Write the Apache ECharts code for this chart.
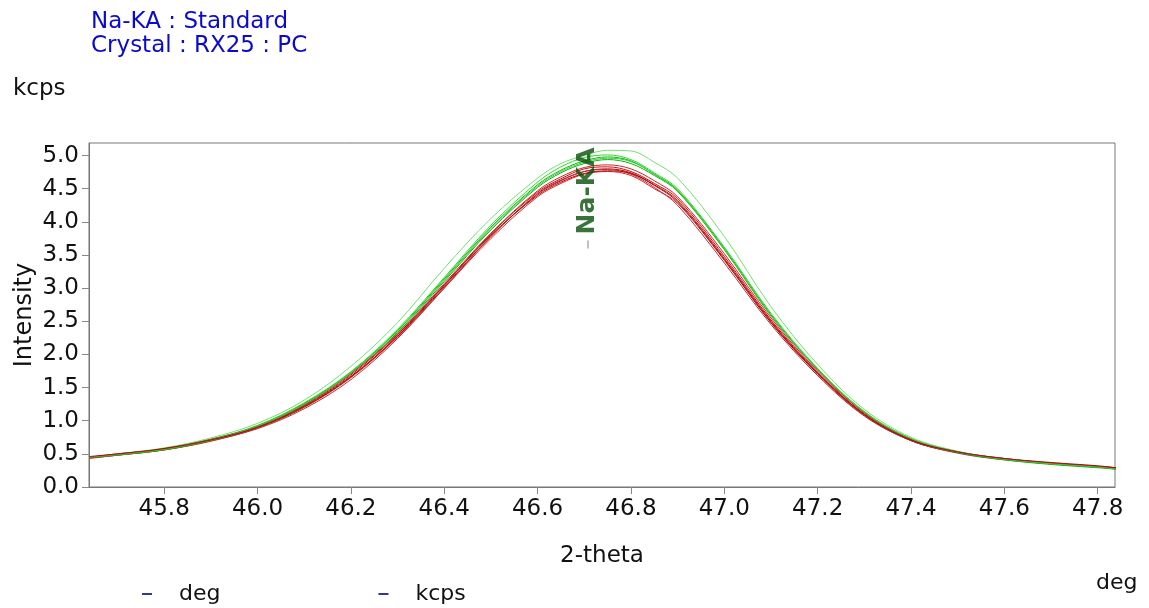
<!DOCTYPE html>
<html>
<head>
<meta charset="utf-8">
<script src="https://cdn.jsdelivr.net/npm/echarts@6/dist/echarts.min.js"></script>
<style>html,body{margin:0;padding:0;background:#fff}#c{width:1149px;height:608px}</style>
</head>
<body>
<div id="c"></div>
<script>
// ---- data ----
const twoTheta = [45.64,45.70,45.80,45.90,46.00,46.10,46.20,46.30,46.40,46.50,46.60,46.65,46.70,46.75,46.80,46.85,46.90,47.00,47.10,47.20,47.30,47.40,47.50,47.60,47.70,47.80,47.84];
const red1 = [0.44,0.48,0.56,0.70,0.90,1.22,1.67,2.27,3.02,3.78,4.42,4.62,4.76,4.80,4.74,4.56,4.32,3.45,2.50,1.72,1.10,0.71,0.53,0.43,0.36,0.31,0.29];
const red2 = [0.45,0.49,0.57,0.71,0.91,1.23,1.69,2.30,3.05,3.82,4.45,4.65,4.80,4.83,4.76,4.58,4.35,3.48,2.52,1.73,1.10,0.70,0.52,0.42,0.36,0.31,0.29];
const red3 = [0.43,0.48,0.56,0.69,0.89,1.20,1.65,2.26,3.00,3.75,4.38,4.58,4.72,4.76,4.70,4.50,4.28,3.42,2.48,1.70,1.08,0.70,0.52,0.42,0.35,0.31,0.28];
const red4 = [0.45,0.50,0.57,0.70,0.88,1.18,1.62,2.24,3.00,3.78,4.43,4.63,4.76,4.79,4.72,4.52,4.25,3.38,2.45,1.68,1.07,0.70,0.51,0.41,0.35,0.30,0.28];
const red5 = [0.44,0.49,0.58,0.72,0.92,1.25,1.71,2.31,3.07,3.83,4.47,4.68,4.82,4.86,4.80,4.62,4.38,3.52,2.55,1.75,1.12,0.72,0.53,0.43,0.36,0.31,0.28];
const red6 = [0.46,0.50,0.58,0.71,0.90,1.21,1.66,2.28,3.04,3.80,4.40,4.60,4.73,4.77,4.73,4.55,4.30,3.43,2.48,1.71,1.09,0.71,0.53,0.43,0.37,0.32,0.29];
const green1 = [0.45,0.49,0.57,0.71,0.92,1.26,1.73,2.36,3.14,3.92,4.56,4.78,4.92,4.98,4.92,4.72,4.48,3.60,2.60,1.78,1.13,0.73,0.53,0.42,0.35,0.30,0.27];
const green2 = [0.44,0.49,0.58,0.72,0.93,1.27,1.74,2.38,3.16,3.95,4.60,4.83,4.97,5.01,4.94,4.74,4.50,3.62,2.62,1.79,1.14,0.73,0.53,0.42,0.35,0.30,0.27];
const green3 = [0.45,0.50,0.59,0.74,0.96,1.31,1.82,2.48,3.30,4.05,4.66,4.88,5.00,5.08,5.07,4.90,4.66,3.78,2.72,1.85,1.17,0.75,0.54,0.42,0.35,0.30,0.27];
const green4 = [0.44,0.48,0.56,0.70,0.91,1.24,1.71,2.33,3.10,3.88,4.52,4.74,4.88,4.94,4.88,4.70,4.46,3.58,2.58,1.77,1.12,0.72,0.52,0.41,0.34,0.29,0.27];
const green5 = [0.45,0.49,0.57,0.71,0.92,1.25,1.72,2.35,3.12,3.90,4.54,4.76,4.90,4.96,4.91,4.72,4.47,3.59,2.59,1.78,1.13,0.73,0.53,0.42,0.35,0.30,0.27];
const xTicks = [45.8,46.0,46.2,46.4,46.6,46.8,47.0,47.2,47.4,47.6,47.8];
const yTicks = [0,0.5,1.0,1.5,2.0,2.5,3.0,3.5,4.0,4.5,5.0];
const peakName = 'Na-KA';
const peakPos = [46.708, 3.66];
const legendNames = ['deg','kcps'];

const traces = [
  {d: red1, c: '#d00000'}, {d: green1, c: '#00c000'},
  {d: red2, c: '#c01010'}, {d: green2, c: '#30d830'},
  {d: red3, c: '#e02020'}, {d: green3, c: '#70e070'},
  {d: red4, c: '#b03040'}, {d: green4, c: '#10b010'},
  {d: red5, c: '#cc2a2a'}, {d: green5, c: '#40cc40'},
  {d: red6, c: '#a01010'}
];

const FONT = 'DejaVu Sans';
const series = traces.map(t => ({
  type: 'line', data: twoTheta.map((x, i) => [x, t.d[i]]),
  showSymbol: false, smooth: 0.35, silent: true,
  lineStyle: {color: t.c, width: 1}, itemStyle: {color: t.c}
}));
series.push({
  type: 'scatter', data: [peakPos], symbol: 'rect', symbolSize: [1.5, 8],
  itemStyle: {color: '#999'}, silent: true, z: 10,
  label: {show: true, formatter: peakName, position: 'top', distance: 6, rotate: 90,
    align: 'left', verticalAlign: 'middle', color: '#07500a', fontFamily: FONT, fontSize: 25, fontWeight: 'bold'}
});
legendNames.forEach(n => series.push({type: 'line', name: n, data: [], itemStyle: {color: '#3535a0'}, lineStyle: {color: '#3535a0'}}));

const chart = echarts.init(document.getElementById('c'), null, {renderer: 'canvas'});
chart.setOption({
  animation: false,
  backgroundColor: '#fff',
  title: [
    {text: 'Na-KA : Standard\nCrystal : RX25 : PC', left: 86, top: 5,
      textStyle: {color: '#0a0acc', fontFamily: FONT, fontSize: 23, fontWeight: 'normal', lineHeight: 24}},
    {text: 'kcps', left: 8, top: 73, textStyle: {color: '#111', fontFamily: FONT, fontSize: 23, fontWeight: 'normal'}},
    {text: 'deg', left: 1091, top: 567, textStyle: {color: '#111', fontFamily: FONT, fontSize: 22, fontWeight: 'normal'}}
  ],
  legend: {
    data: legendNames, left: 137, top: 578, itemGap: 158, icon: 'rect', itemWidth: 10, itemHeight: 2,
    textStyle: {color: '#111', fontFamily: FONT, fontSize: 22, padding: [0, 0, 0, 22]}, selectedMode: false
  },
  grid: {left: 89, right: 34, top: 143, bottom: 121, show: true, borderColor: '#777', borderWidth: 1},
  xAxis: {
    type: 'value', min: 45.639, max: 47.837,
    name: '2-theta', nameLocation: 'middle', nameGap: 58, nameMoveOverlap: false,
    nameTextStyle: {color: '#111', fontFamily: FONT, fontSize: 23},
    axisLine: {show: true, onZero: false, lineStyle: {color: '#777'}},
    axisTick: {show: true, length: 7, customValues: xTicks, lineStyle: {color: '#888'}},
    axisLabel: {customValues: xTicks, formatter: v => v.toFixed(1), color: '#111', fontFamily: FONT, fontSize: 23, margin: 11},
    splitLine: {show: false}
  },
  yAxis: {
    type: 'value', min: 0, max: 5.19,
    name: 'Intensity', nameLocation: 'middle', nameGap: 52, nameMoveOverlap: false,
    nameTextStyle: {color: '#111', fontFamily: FONT, fontSize: 24},
    axisLine: {show: true, lineStyle: {color: '#777'}},
    axisTick: {show: true, length: 7, customValues: yTicks, lineStyle: {color: '#888'}},
    axisLabel: {customValues: yTicks, formatter: v => v.toFixed(1), color: '#111', fontFamily: FONT, fontSize: 23, margin: 10},
    splitLine: {show: false}
  },
  series: series
});
</script>
</body>
</html>
